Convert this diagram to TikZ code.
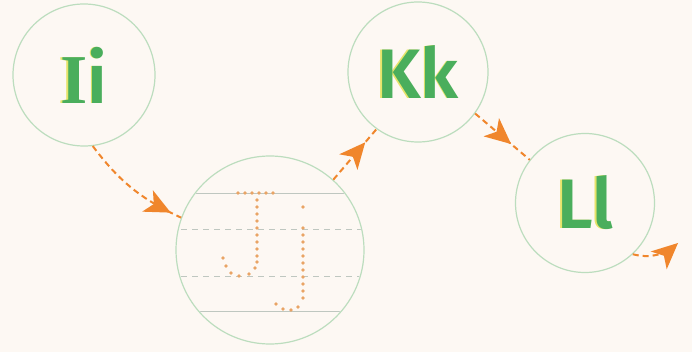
\documentclass[tikz,border=0pt]{standalone}
\usepackage{fontspec}
\setmainfont{Fira Sans}[BoldFont={Fira Sans SemiBold}]
\newfontfamily\serifI{Liberation Serif}
\usetikzlibrary{arrows.meta,positioning,calc,decorations.markings}
\definecolor{paper}{HTML}{FDF8F3}
\definecolor{ringgreen}{HTML}{BCDDBE}
\definecolor{lettergreen}{HTML}{4AAE5C}
\definecolor{letteryellow}{HTML}{E6E46A}
\definecolor{arroworange}{HTML}{F0862C}
\definecolor{dotorange}{HTML}{E9A465}
\definecolor{guidegray}{HTML}{BFC7C0}
\newcommand{\twotone}[1]{\rlap{\kern-1.6pt\textcolor{letteryellow}{#1}}\textcolor{lettergreen}{#1}}
\tikzset{
  lvertex/.style={circle,draw=ringgreen,line width=1.2pt,inner sep=0pt,font=\fontsize{70}{70}\selectfont\bfseries},
  larrow/.style={draw=arroworange,line width=2pt,dash pattern=on 6pt off 4pt},
  midhead/.style={postaction={decorate},decoration={markings,
    mark=at position #1 with {\fill[arroworange] (0,0)--(-26pt,12pt)--(-19pt,0)--(-26pt,-12pt)--cycle;}}},
  guideline/.style={draw=guidegray,line width=.8pt},
  guidedash/.style={guideline,dash pattern=on 6pt off 5pt},
  tracedot/.style={fill=dotorange,circle,inner sep=0pt,minimum size=3.6pt}
}

\begin{document}
\begin{tikzpicture}[x=1pt,y=-1pt]
  \fill[paper] (0,0) rectangle (692,352);
  \useasboundingbox (0,0) rectangle (692,352);
  \node[lvertex,minimum size=142pt] (Ii) at (84,75) {\twotone{{\serifI I}i}};
  \node[lvertex,minimum size=188pt] (Jj) at (270,250) {};
  \node[lvertex,minimum size=140pt] (Kk) at (418,72) {\twotone{Kk}};
  \node[lvertex,minimum size=139pt] (Ll) at (585,203) {\twotone{Ll}};
  % writing lines inside the big circle
  \begin{scope}
    \clip (270,250) circle (93pt);
    \draw[guideline] (170,193) -- (370,193);
    \draw[guidedash] (170,229) -- (370,229);
    \draw[guidedash] (170,276) -- (370,276);
    \draw[guideline] (170,311) -- (370,311);
  \end{scope}
  % dotted J
  \foreach \x in {238,245,252,259,266,273}
    \node[tracedot] at (\x,193) {};
  \foreach \y in {200,207,214,221,228,235,242,249,256,262}
    \node[tracedot] at (257,\y) {};
  \foreach \x/\y in {223/258,226/266,231/273,239/276,249/274,255/268}
    \node[tracedot] at (\x,\y) {};
  % dotted j
  \node[tracedot] at (303,207) {};
  \foreach \y in {228,235,242,249,256,263,270,277,284,291,298}
    \node[tracedot] at (303,\y) {};
  \foreach \x/\y in {276/304,283/309,291/310,298/307}
    \node[tracedot] at (\x,\y) {};
  % arrows
  \coordinate (tail) at (678,243);
  \draw[larrow,midhead=.9] (Ii.-83) to[bend right=14] (Jj.160);
  \draw[larrow,midhead=.74] (Jj.48) -- (Kk.-126);
  \draw[larrow,midhead=.66] (Kk.-36) -- (Ll.142);
  \draw[larrow,midhead=1] (Ll.-47) to[bend right=28] (tail);
\end{tikzpicture}
\end{document}
